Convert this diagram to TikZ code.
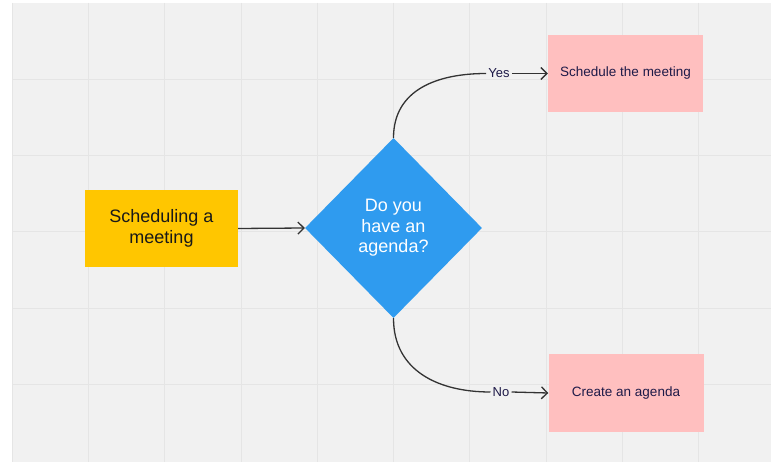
\documentclass[tikz,border=0pt]{standalone}
\usepackage{fontspec}
\setmainfont{Liberation Sans}
\usetikzlibrary{shapes.geometric,arrows.meta,positioning}
\definecolor{boardgray}{RGB}{241,241,241}
\definecolor{gridgray}{RGB}{229,229,229}
\definecolor{stickyyellow}{RGB}{255,198,0}
\definecolor{stickypink}{RGB}{255,191,191}
\definecolor{decideblue}{RGB}{47,155,239}
\definecolor{labelnavy}{RGB}{30,26,72}
\definecolor{linegray}{RGB}{51,51,51}

\begin{document}
\begin{tikzpicture}[x=1pt, y=-1pt,
  card/.style={minimum width=155pt, minimum height=77pt, inner sep=0pt, align=center},
  bigtext/.style={font=\fontsize{18}{20.5}\selectfont},
  smalltext/.style={font=\fontsize{13.5}{16}\selectfont, text=labelnavy},
  flow/.style={line width=1.3pt, draw=linegray},
  arrowed/.style={-{Straight Barb[length=6pt,width=12pt]}}
]
  % Board
  \useasboundingbox (0,0) rectangle (771,462);
  \fill[white] (0,0) rectangle (771,462);
  \fill[boardgray] (12,3) rectangle (771,462);

  % Grid
  \draw[gridgray, line width=0.8pt] (12,3) -- (12,462);
  \foreach \k in {1,...,9}
    \draw[gridgray, line width=0.8pt] ({12+76.3*\k},3) -- ({12+76.3*\k},462);
  \foreach \k in {1,...,5}
    \draw[gridgray, line width=0.8pt] (12,{3+76.3*\k}) -- (771,{3+76.3*\k});

  % Shapes
  \node[card, bigtext, fill=stickyyellow, minimum width=153pt, text=black!90] (start) at (161.5,228.5) {Scheduling a\\meeting};
  \node[diamond, fill=decideblue, inner sep=0pt, minimum width=177pt, minimum height=180pt,
        bigtext, text=white, align=center] (decide) at (393.5,228) {Do you\\have an\\agenda?};
  \node[card, smalltext, fill=stickypink] (sched) at (625.5,73.5) {Schedule the meeting};
  \node[card, smalltext, fill=stickypink, minimum height=78pt] (create) at (626,393) {Create an agenda};

  % Branch labels
  \node[smalltext, font=\fontsize{13}{15}\selectfont, inner sep=2pt] (yes) at (499,73.5) {Yes};
  \node[smalltext, font=\fontsize{13}{15}\selectfont, inner sep=2pt] (no) at (501,392) {No};

  % Connectors
  \draw[flow, arrowed] (start.east) -- (decide.west);
  \draw[flow] (decide.north) to[out=90, in=180, looseness=1.1] (yes.west);
  \draw[flow, arrowed] (yes.east) -- (sched.west);
  \draw[flow] (decide.south) to[out=-90, in=180, looseness=1.1] (no.west);
  \draw[flow, arrowed] (no.east) -- (create.west);
\end{tikzpicture}
\end{document}
